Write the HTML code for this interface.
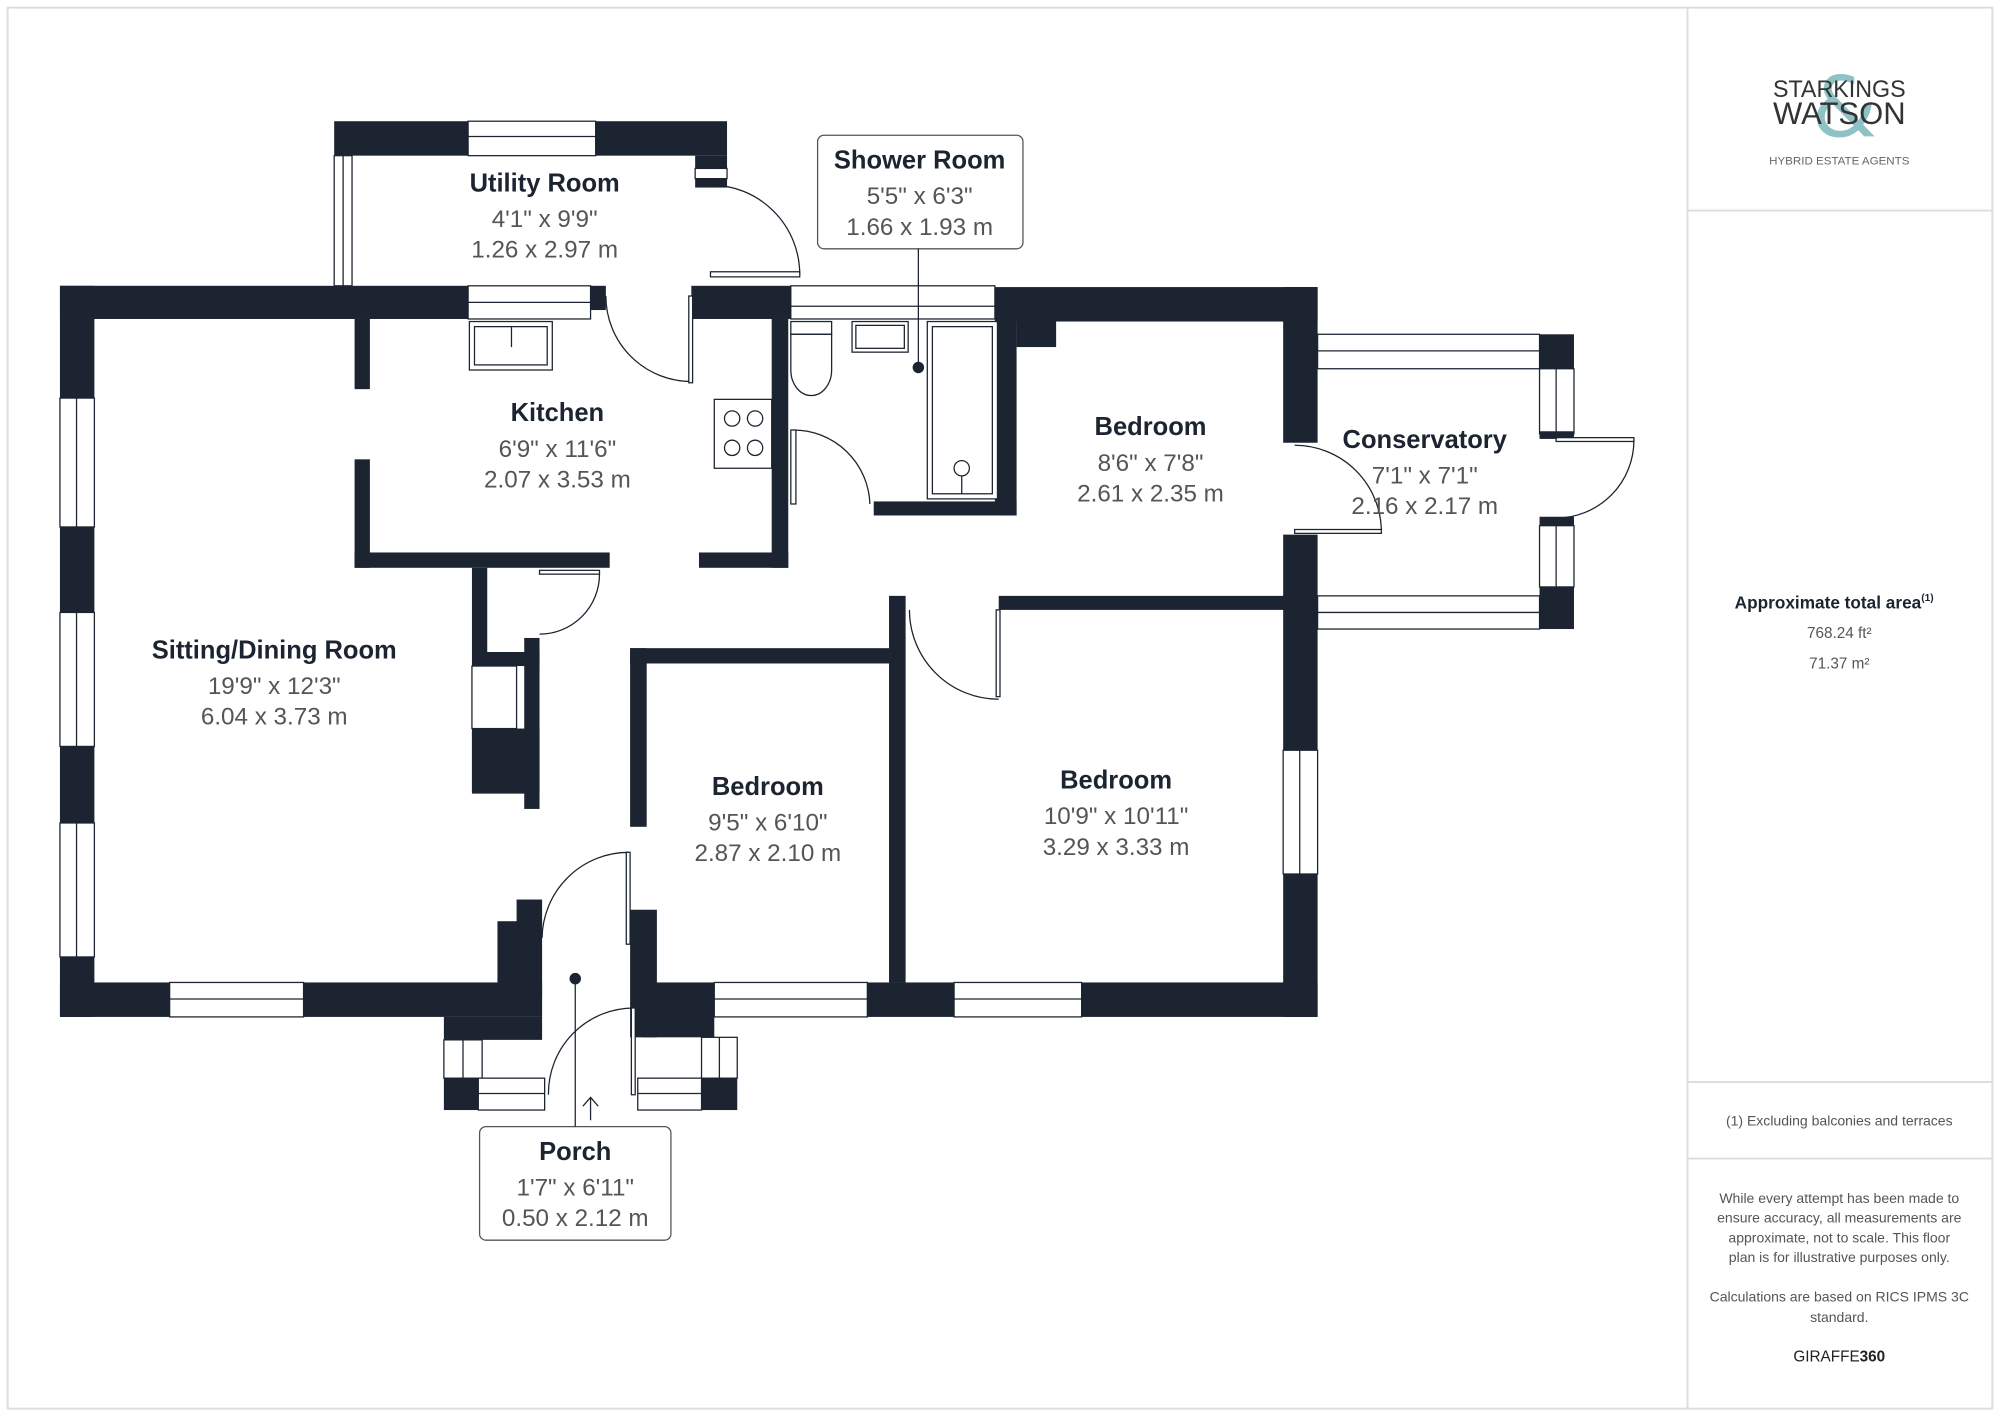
<!DOCTYPE html>
<html><head><meta charset="utf-8"><style>
html,body{margin:0;padding:0;background:#fff}
svg{display:block}
.w{fill:#1b2430}
.win{fill:#fff;stroke:#1b2430;stroke-width:1}
.ln{stroke:#1b2430;stroke-width:1;fill:none}
.t{font-family:"Liberation Sans",sans-serif;text-anchor:middle}
.n{font-size:20px;font-weight:bold;fill:#1b2430}
.d{font-size:19px;fill:#555}
</style></head><body>
<svg width="2000" height="1415" viewBox="0 0 1568 1109" preserveAspectRatio="none" xmlns="http://www.w3.org/2000/svg">
<rect x="6" y="6" width="1556" height="1098" fill="none" stroke="#ddd" stroke-width="1.5"/>
<line x1="1323" y1="6" x2="1323" y2="1104" stroke="#ddd" stroke-width="1.5"/>
<line x1="1323" y1="165" x2="1562" y2="165" stroke="#ddd" stroke-width="1.5"/>
<line x1="1323" y1="848" x2="1562" y2="848" stroke="#ddd" stroke-width="1.5"/>
<line x1="1323" y1="908" x2="1562" y2="908" stroke="#ddd" stroke-width="1.5"/>

<!-- logo -->
<text x="1446" y="107" class="t" style="font-size:66px;fill:#8fc2c4;font-family:'DejaVu Sans',sans-serif">&amp;</text>
<text x="1442" y="76" class="t" style="font-size:19px;fill:#333" textLength="104" lengthAdjust="spacingAndGlyphs">STARKINGS</text>
<text x="1442" y="97" class="t" style="font-size:25px;fill:#333" textLength="104" lengthAdjust="spacingAndGlyphs">WATSON</text>
<text x="1442" y="129" class="t" style="font-size:9px;fill:#666" textLength="110" lengthAdjust="spacingAndGlyphs">HYBRID ESTATE AGENTS</text>

<text x="1438" y="477" class="t" style="font-size:13.5px;font-weight:bold;fill:#1b2430">Approximate total area<tspan font-size="8" dy="-6">(1)</tspan></text>
<text x="1442" y="500" class="t" style="font-size:12px;fill:#555">768.24 ft²</text>
<text x="1442" y="524" class="t" style="font-size:12px;fill:#555">71.37 m²</text>
<text x="1442" y="882" class="t" style="font-size:11px;fill:#555">(1) Excluding balconies and terraces</text>
<g class="t" style="font-size:11px;fill:#555">
<text x="1442" y="943">While every attempt has been made to</text>
<text x="1442" y="958">ensure accuracy, all measurements are</text>
<text x="1442" y="974">approximate, not to scale. This floor</text>
<text x="1442" y="989">plan is for illustrative purposes only.</text>
<text x="1442" y="1020">Calculations are based on RICS IPMS 3C</text>
<text x="1442" y="1036">standard.</text>
</g>
<text x="1442" y="1067" class="t" style="font-size:12px;fill:#222">GIRAFFE<tspan font-weight="bold">360</tspan></text>

<!-- utility -->
<rect class="w" x="262" y="95" width="308" height="27"/>
<rect class="win" x="367" y="95" width="100" height="27"/><line class="ln" x1="367" y1="107" x2="467" y2="107"/>
<rect class="win" x="262" y="122" width="14" height="102"/><line class="ln" x1="269" y1="122" x2="269" y2="224"/>
<rect class="w" x="545" y="122" width="25" height="25"/>
<rect class="win" x="545" y="132" width="25" height="8"/>
<path class="ln" d="M627 215 A70 70 0 0 0 557 145"/><rect class="win" x="557" y="213" width="70" height="4"/>

<!-- top main wall -->
<rect class="w" x="47" y="224" width="320" height="26"/>
<rect class="win" x="367" y="224" width="96" height="26"/><line class="ln" x1="367" y1="237" x2="463" y2="237"/>
<rect class="w" x="463" y="224" width="12" height="19"/>
<rect class="w" x="542" y="224" width="78" height="26"/>
<rect class="win" x="620" y="224" width="160" height="26"/><line class="ln" x1="620" y1="240" x2="780" y2="240"/>
<rect class="w" x="780" y="225" width="253" height="27"/>
<rect class="w" x="797" y="250" width="31" height="22"/>
<rect class="w" x="1006" y="225" width="27" height="122"/>
<rect class="w" x="1006" y="419" width="27" height="378"/>
<rect class="win" x="1006" y="588" width="27" height="97"/><line class="ln" x1="1019" y1="588" x2="1019" y2="685"/>

<!-- left wall -->
<rect class="w" x="47" y="224" width="27" height="573"/>
<rect class="win" x="47" y="312" width="27" height="101"/><line class="ln" x1="60" y1="312" x2="60" y2="413"/>
<rect class="win" x="47" y="480" width="27" height="105"/><line class="ln" x1="60" y1="480" x2="60" y2="585"/>
<rect class="win" x="47" y="645" width="27" height="105"/><line class="ln" x1="60" y1="645" x2="60" y2="750"/>

<!-- bottom wall -->
<rect class="w" x="47" y="770" width="378" height="27"/>
<rect class="win" x="133" y="770" width="105" height="27"/><line class="ln" x1="133" y1="783" x2="238" y2="783"/>
<rect class="w" x="390" y="722" width="35" height="60"/>
<rect class="w" x="405" y="705" width="20" height="20"/>
<rect class="w" x="348" y="797" width="77" height="18"/>
<rect class="win" x="348" y="815" width="30" height="30"/><line class="ln" x1="363" y1="815" x2="363" y2="845"/>
<rect class="w" x="348" y="845" width="27" height="25"/>
<rect class="win" x="375" y="845" width="52" height="25"/><line class="ln" x1="375" y1="857" x2="427" y2="857"/>
<rect class="w" x="494" y="713" width="21" height="100"/>
<rect class="w" x="503" y="770" width="57" height="43"/>
<rect class="win" x="550" y="813" width="28" height="32"/><line class="ln" x1="564" y1="813" x2="564" y2="845"/>
<rect class="w" x="550" y="845" width="28" height="25"/>
<rect class="win" x="500" y="845" width="50" height="25"/><line class="ln" x1="500" y1="857" x2="550" y2="857"/>
<rect class="w" x="560" y="770" width="473" height="27"/>
<rect class="win" x="560" y="770" width="120" height="27"/><line class="ln" x1="560" y1="783" x2="680" y2="783"/>
<rect class="win" x="748" y="770" width="100" height="27"/><line class="ln" x1="748" y1="783" x2="848" y2="783"/>

<!-- kitchen -->
<rect class="w" x="278" y="250" width="12" height="55"/>
<rect class="w" x="278" y="360" width="12" height="85"/>
<rect class="w" x="278" y="433" width="200" height="12"/>
<rect class="w" x="548" y="433" width="70" height="12"/>
<rect class="w" x="605" y="250" width="13" height="195"/>
<rect class="win" x="368" y="252" width="65" height="38"/><rect class="win" x="372" y="256" width="57" height="30"/><line class="ln" x1="401" y1="256" x2="401" y2="272"/>
<rect class="win" x="560" y="313" width="45" height="54"/>
<circle class="ln" cx="574" cy="328" r="6"/><circle class="ln" cx="592" cy="328" r="6"/><circle class="ln" cx="574" cy="351" r="6"/><circle class="ln" cx="592" cy="351" r="6"/>
<path class="ln" d="M475 232 A67 67 0 0 0 542 299"/><rect class="win" x="540" y="232" width="3" height="68"/>

<!-- cupboard / chimney -->
<rect class="w" x="370" y="445" width="12" height="175"/>
<rect class="w" x="370" y="571" width="53" height="51"/>
<rect class="w" x="411" y="500" width="12" height="134"/>
<rect class="w" x="380" y="511" width="43" height="11"/>
<rect class="win" x="370" y="522" width="35" height="49"/>
<path class="ln" d="M470 450 A47 47 0 0 1 423 497"/><rect class="win" x="423" y="447" width="47" height="3"/>

<!-- shower room -->
<rect class="w" x="780" y="250" width="17" height="154"/>
<rect class="w" x="685" y="393" width="112" height="11"/>
<rect class="win" x="727" y="252" width="55" height="139"/><rect class="win" x="731" y="256" width="47" height="131"/>
<circle class="ln" cx="754" cy="367" r="6"/><line class="ln" x1="754" y1="373" x2="754" y2="387"/>
<rect class="win" x="668" y="252" width="44" height="24"/><rect class="win" x="671" y="255" width="38" height="18"/>
<rect class="win" x="620" y="252" width="32" height="10"/>
<path class="ln" d="M620 262 L652 262 L652 290 A16 20 0 0 1 620 290 Z"/>
<path class="ln" d="M622 337 A60 60 0 0 1 682 395"/><rect class="win" x="620" y="337" width="4" height="58"/>

<!-- bedrooms -->
<rect class="w" x="783" y="467" width="250" height="11"/>
<rect class="w" x="697" y="467" width="13" height="303"/>
<rect class="w" x="494" y="508" width="203" height="12"/>
<rect class="w" x="494" y="508" width="13" height="140"/>
<path class="ln" d="M713 478 A70 70 0 0 0 783 548"/><rect class="win" x="781" y="478" width="3" height="68"/>
<path class="ln" d="M1083 417 A68 68 0 0 0 1015 349"/><rect class="win" x="1015" y="415" width="68" height="3"/>

<!-- conservatory -->
<rect class="win" x="1033" y="262" width="174" height="27"/><line class="ln" x1="1033" y1="275" x2="1207" y2="275"/>
<rect class="w" x="1207" y="262" width="27" height="27"/>
<rect class="win" x="1207" y="289" width="27" height="51"/><line class="ln" x1="1220" y1="289" x2="1220" y2="340"/>
<rect class="w" x="1207" y="338" width="27" height="6"/>
<rect class="w" x="1207" y="405" width="27" height="7"/>
<rect class="win" x="1207" y="412" width="27" height="48"/><line class="ln" x1="1220" y1="412" x2="1220" y2="460"/>
<rect class="w" x="1207" y="460" width="27" height="33"/>
<rect class="win" x="1033" y="467" width="174" height="26"/><line class="ln" x1="1033" y1="480" x2="1207" y2="480"/>
<rect class="win" x="1220" y="343" width="61" height="3"/>
<path class="ln" d="M1281 345 A61 61 0 0 1 1220 406"/>

<!-- porch doors -->
<path class="ln" d="M493 668 A68 68 0 0 0 425 735"/><rect class="win" x="491" y="668" width="3" height="72"/>
<path class="ln" d="M497 790 A67 67 0 0 0 430 858"/><rect class="win" x="495" y="790" width="3" height="68"/>

<!-- callouts -->
<rect x="641" y="106" width="161" height="89" rx="5" fill="#fff" stroke="#555"/>
<line class="ln" x1="720" y1="195" x2="720" y2="288"/><circle cx="720" cy="288" r="4.5" fill="#1b2430"/>
<text x="721" y="132" class="t n">Shower Room</text>
<text x="721" y="160" class="t d">5'5" x 6'3"</text>
<text x="721" y="184" class="t d">1.66 x 1.93 m</text>
<rect x="376" y="883" width="150" height="89" rx="5" fill="#fff" stroke="#555"/>
<line class="ln" x1="451" y1="767" x2="451" y2="883"/><circle cx="451" cy="767" r="4.5" fill="#1b2430"/>
<path class="ln" d="M463 878 V860 M457 867 L463 860 L469 867"/>
<text x="451" y="909" class="t n">Porch</text>
<text x="451" y="937" class="t d">1'7" x 6'11"</text>
<text x="451" y="961" class="t d">0.50 x 2.12 m</text>

<!-- labels -->
<text x="427" y="150" class="t n">Utility Room</text>
<text x="427" y="178" class="t d">4'1" x 9'9"</text>
<text x="427" y="202" class="t d">1.26 x 2.97 m</text>
<text x="437" y="330" class="t n">Kitchen</text>
<text x="437" y="358" class="t d">6'9" x 11'6"</text>
<text x="437" y="382" class="t d">2.07 x 3.53 m</text>
<text x="215" y="516" class="t n">Sitting/Dining Room</text>
<text x="215" y="544" class="t d">19'9" x 12'3"</text>
<text x="215" y="568" class="t d">6.04 x 3.73 m</text>
<text x="902" y="341" class="t n">Bedroom</text>
<text x="902" y="369" class="t d">8'6" x 7'8"</text>
<text x="902" y="393" class="t d">2.61 x 2.35 m</text>
<text x="1117" y="351" class="t n">Conservatory</text>
<text x="1117" y="379" class="t d">7'1" x 7'1"</text>
<text x="1117" y="403" class="t d">2.16 x 2.17 m</text>
<text x="602" y="623" class="t n">Bedroom</text>
<text x="602" y="651" class="t d">9'5" x 6'10"</text>
<text x="602" y="675" class="t d">2.87 x 2.10 m</text>
<text x="875" y="618" class="t n">Bedroom</text>
<text x="875" y="646" class="t d">10'9" x 10'11"</text>
<text x="875" y="670" class="t d">3.29 x 3.33 m</text>
</svg>
</body></html>
